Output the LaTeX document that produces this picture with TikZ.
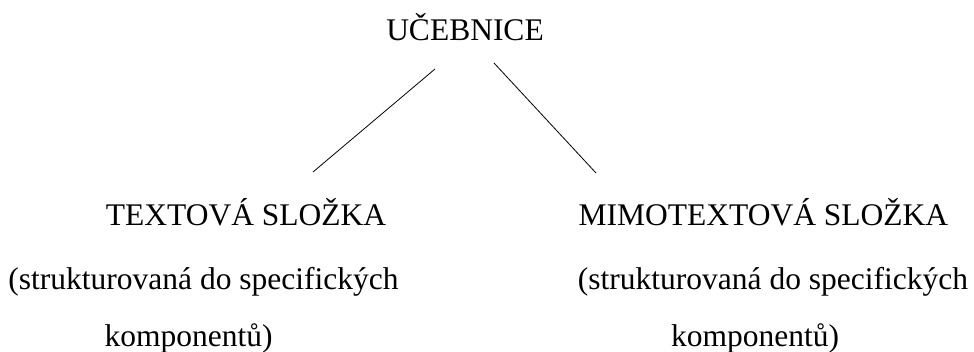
\documentclass[tikz,border=0pt]{standalone}
\usepackage{fontspec}
\setmainfont{Liberation Serif}
\begin{document}
\begin{tikzpicture}[x=1pt,y=-1pt,
  lbl/.style={inner sep=0pt,anchor=base,font=\fontsize{31.5}{36}\selectfont},
  conn/.style={draw=black,line width=0.8pt}]
\useasboundingbox (0,0) rectangle (974,351);
\node[lbl] (top) at (465,40) {UČEBNICE};
\node[lbl] (lt) at (246,225) {TEXTOVÁ SLOŽKA};
\node[lbl] (rt) at (763.5,225) {MIMOTEXTOVÁ SLOŽKA};
\node[lbl] (l2) at (203.5,289) {(strukturovaná do specifických};
\node[lbl] (r2) at (773,289) {(strukturovaná do specifických};
\node[lbl] (l3) at (188.5,346) {komponentů)};
\node[lbl] (r3) at (755,346) {komponentů)};
\coordinate (a1) at (435,69);
\coordinate (a2) at (313,172);
\coordinate (b1) at (494,63);
\coordinate (b2) at (596,173);
\draw[conn] (a1) -- (a2);
\draw[conn] (b1) -- (b2);
\end{tikzpicture}
\end{document}
